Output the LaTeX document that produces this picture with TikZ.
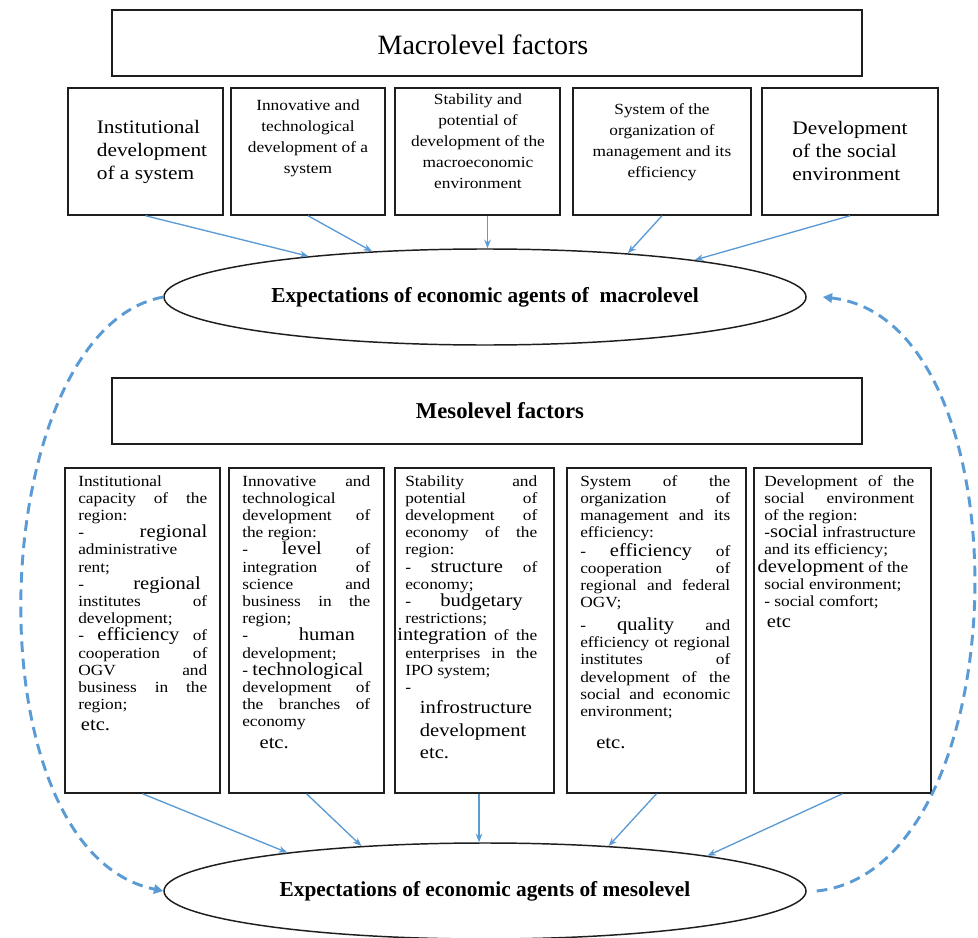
\documentclass[tikz,border=0pt]{standalone}
\usepackage{fontspec}
\setmainfont{Liberation Serif}
\newfontfamily\widefont[FakeStretch=1.12]{Liberation Serif}
\usetikzlibrary{arrows.meta,shapes.geometric}
\definecolor{linkblue}{RGB}{91,155,213}
\definecolor{boxline}{RGB}{30,30,30}
\newlength\jw
\newcommand\jl[1]{\makebox[\jw][s]{#1}}
\newcommand\bw[1]{{\fontsize{13.8pt}{12.9pt}\selectfont #1}}
\newcommand\bx[5]{\node[factorbox, minimum width={(#4-#2)*0.75pt}, minimum height={(#5-#3)*0.75pt}] (#1) at ({(#2+#4)/2},{(#3+#5)/2}) {};}
\tikzset{
  factorbox/.style={draw=boxline, line width=1.1pt, inner sep=0pt, fill=white},
  oval/.style={ellipse, draw=boxline, line width=1.1pt, inner sep=0pt, minimum width={642*0.75pt}, minimum height={96*0.75pt}, font=\fontsize{16pt}{18pt}\selectfont\bfseries},
  bodytxt/.style={inner sep=0pt, align=left, anchor=north west, font=\widefont\fontsize{11.6pt}{12.9pt}\selectfont},
  toptxt/.style={inner sep=0pt, align=center, font=\widefont\fontsize{11.6pt}{15.75pt}\selectfont},
  bigtxt/.style={inner sep=0pt, align=left, font=\widefont\fontsize{14.3pt}{17.5pt}\selectfont},
  link/.style={draw=linkblue, line width=1pt, -{Stealth[length=6.5pt,width=5pt]}},
  loop/.style={draw=linkblue, line width=2.2pt, dash pattern=on 8pt off 5pt, -{Triangle[length=7pt,width=7pt]}}
}
\begin{document}
\begin{tikzpicture}[x=0.75pt,y=-0.75pt]
\useasboundingbox (0,0) rectangle (978,938);
\fill[white] (0,0) rectangle (978,938);

% headline boxes
\bx{macro}{112}{10}{862}{76}
\node[inner sep=0pt, font=\fontsize{21pt}{25pt}\selectfont] (macrolabel) at (483,45) {Macrolevel factors};
\bx{meso}{112}{378}{862}{444}
\node[inner sep=0pt, font=\fontsize{17pt}{20pt}\selectfont\bfseries] (mesolabel) at (500,411) {Mesolevel factors};

% top factor boxes
\bx{t1}{68}{88}{223}{215}
\bx{t2}{231}{88}{385}{215}
\bx{t3}{395}{88}{560}{215}
\bx{t4}{573}{88}{751}{215}
\bx{t5}{762}{88}{938}{215}

\node[bigtxt] (tt1) at (152,152) {Institutional\\development\\of a system};
\node[toptxt] (tt2) at (308,138) {Innovative and\\technological\\development of a\\system};
\node[toptxt] (tt3) at (478,141) {Stability and\\potential of\\development of the\\macroeconomic\\environment};
\node[toptxt] (tt4) at (662,142) {System of the\\organization of\\management and its\\efficiency};
\node[bigtxt] (tt5) at (850,151) {Development\\of the social\\environment};

% ellipses
\node[oval] (macroE) at (485,297) {Expectations of economic agents of\ \ macrolevel};
\node[oval] (mesoE) at (485,891) {Expectations of economic agents of mesolevel};

% top arrows
\coordinate (a3) at ([xshift=7.5pt]t3.south);
\draw[link] (t1.south) -- (macroE.167);
\draw[link] (t2.south) -- (macroE.158.8);
\draw[link] (a3) -- (a3 |- macroE.north);
\draw[link] (t4.south) -- (macroE.17);
\draw[link] (t5.south) -- (macroE.10.8);

% bottom factor boxes
\bx{b1}{65}{468}{220}{793}
\bx{b2}{229}{468}{384}{793}
\bx{b3}{395}{468}{554}{793}
\bx{b4}{567}{468}{746}{793}
\bx{b5}{754}{468}{931}{793}

\setlength\jw{96.75pt}
\node[bodytxt] (bt1) at (78,475) {Institutional\\
\jl{capacity of the}\\
region:\\
\jl{- \bw{regional}}\\
administrative\\
rent;\\
\makebox[0.95\jw][s]{- \bw{regional}}\\
\jl{institutes of}\\
development;\\
\jl{- \bw{efficiency} of}\\
\jl{cooperation of}\\
\jl{OGV and}\\
\jl{business in the}\\
region;\\[3pt]
\hspace*{2pt}\bw{etc.}};

\setlength\jw{96pt}
\node[bodytxt] (bt2) at (242,475) {\jl{Innovative and}\\
technological\\
\jl{development of}\\
the region:\\
\jl{- \bw{level} of}\\
\jl{integration of}\\
\jl{science and}\\
\jl{business in the}\\
region;\\
\makebox[0.88\jw][s]{- \bw{human}}\\
development;\\
- \bw{technological}\\
\jl{development of}\\
\jl{the branches of}\\
economy\\[3pt]
\hspace*{13pt}\bw{etc.}};

\setlength\jw{99pt}
\node[bodytxt] (bt3) at (405,475) {\jl{Stability and}\\
\jl{potential of}\\
\jl{development of}\\
\jl{economy of the}\\
region:\\
\jl{- \bw{structure} of}\\
economy;\\
\makebox[0.89\jw][s]{- \bw{budgetary}}\\
restrictions;\\
\hspace*{-6pt}\makebox[\dimexpr\jw+6pt\relax][s]{\bw{integration} of the}\\
\jl{enterprises in the}\\
IPO system;\\
-\\[3pt]
\hspace*{11pt}\bw{infrostructure}\\[4pt]
\hspace*{11pt}\bw{development}\\[4pt]
\hspace*{11pt}\bw{etc.}};

\setlength\jw{112.5pt}
\node[bodytxt] (bt4) at (580,475) {\jl{System of the}\\
\jl{organization of}\\
\jl{management and its}\\
efficiency:\\[1pt]
\jl{- \bw{efficiency} of}\\
\jl{cooperation of}\\
\jl{regional and federal}\\
OGV;\\[4pt]
\jl{- \bw{quality} and}\\
\jl{efficiency ot regional}\\
\jl{institutes of}\\
\jl{development of the}\\
\jl{social and economic}\\
environment;\\[11pt]
\hspace*{12pt}\bw{etc.}};

\setlength\jw{112.5pt}
\node[bodytxt] (bt5) at (764,475) {\jl{Development of the}\\
\jl{social environment}\\
of the region:\\
-\bw{social} infrastructure\\
and its efficiency;\\
\hspace*{-5pt}\bw{development} of the\\
social environment;\\
- social comfort;\\[3pt]
\hspace*{2pt}\bw{etc}};

% bottom arrows
\coordinate (c3) at ([xshift=3.4pt]b3.south);
\draw[link] (b1.south) -- (mesoE.169.5);
\draw[link] (b2.south) -- (mesoE.160.4);
\draw[link] (c3) -- (c3 |- mesoE.north);
\draw[link] (b4.south) -- (mesoE.20.1);
\draw[link] (b5.south) -- (mesoE.9.6);

% feedback loops
\draw[loop] (macroE.west) .. controls (-15,330) and (-35,850) .. (mesoE.west);
\draw[loop] ([xshift=7.5pt]mesoE.east) .. controls (1020,870) and (1030,320) .. ([xshift=12pt]macroE.east);
\end{tikzpicture}
\end{document}
